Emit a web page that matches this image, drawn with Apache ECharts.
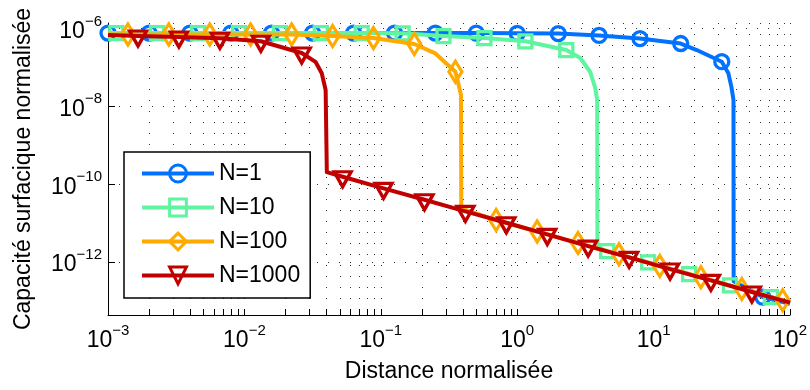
<!DOCTYPE html>
<html><head><meta charset="utf-8">
<script src="https://cdn.jsdelivr.net/npm/echarts@6/dist/echarts.min.js"></script>
<style>html,body{margin:0;padding:0;background:#fff}#c{width:810px;height:390px}</style>
</head><body><div id="c"></div>
<script>
// ---- data ----
const seriesNames = ['N=1', 'N=10', 'N=100', 'N=1000'];

// N=1 : marker points and extra line vertices
const n1MarkX = [0.001, 0.002, 0.00398, 0.00794, 0.0158, 0.0316, 0.0631, 0.126, 0.251, 0.501, 1.0, 2.0, 3.98, 7.94, 15.8, 31.6, 63.1];
const n1MarkY = [7.6e-7, 7.6e-7, 7.6e-7, 7.6e-7, 7.6e-7, 7.6e-7, 7.6e-7, 7.6e-7, 7.6e-7, 7.6e-7, 7.5e-7, 7.4e-7, 6.6e-7, 5.5e-7, 4.1e-7, 1.4e-7, 1.26e-13];
const n1LineX = [20.7, 35.3, 37.2, 38.5, 38.6, 100];
const n1LineY = [2.79e-7, 7.1e-8, 3.1e-8, 1.45e-8, 3.2e-13, 8.5e-14];

// N=10
const n2MarkX = [0.00115, 0.00229, 0.00457, 0.00912, 0.0182, 0.0363, 0.0724, 0.1445, 0.288, 0.575, 1.148, 2.29, 4.57, 9.12, 18.2, 36.3, 72.4];
const n2MarkY = [7.6e-7, 7.6e-7, 7.6e-7, 7.6e-7, 7.6e-7, 7.6e-7, 7.6e-7, 7.48e-7, 6.38e-7, 5.66e-7, 4.68e-7, 2.79e-7, 1.91e-12, 9.77e-13, 4.90e-13, 2.51e-13, 1.26e-13];
const n2LineX = [0.001, 2.90, 3.43, 3.72, 3.855, 3.873, 100];
const n2LineY = [7.6e-7, 1.74e-7, 7.6e-8, 3.09e-8, 1.45e-8, 2.40e-12, 9.1e-14];

// N=100
const n3MarkX = [0.0014, 0.00279, 0.00557, 0.0111, 0.0222, 0.0443, 0.0883, 0.176, 0.352, 0.70, 1.40, 2.79, 5.57, 11.1, 22.2, 44.3, 88.3];
const n3MarkY = [6.97e-7, 6.97e-7, 6.97e-7, 6.97e-7, 6.97e-7, 6.38e-7, 5.66e-7, 3.98e-7, 7.76e-8, 1.20e-11, 6.10e-12, 3.09e-12, 1.58e-12, 7.94e-13, 4.07e-13, 2.04e-13, 1.05e-13];
const n3LineX = [0.001, 0.249, 0.368, 0.387, 0.389, 100];
const n3LineY = [7.1e-7, 2.33e-7, 4.17e-8, 1.95e-8, 2.40e-11, 9.1e-14];

// N=1000
const n4MarkX = [0.00166, 0.00331, 0.00661, 0.0132, 0.0263, 0.0525, 0.1047, 0.209, 0.417, 0.832, 1.66, 3.31, 6.61, 13.2, 26.3, 52.5];
const n4MarkY = [6.38e-7, 6.03e-7, 5.62e-7, 4.68e-7, 2.34e-7, 1.55e-10, 7.82e-11, 3.98e-11, 2.00e-11, 1.02e-11, 5.13e-12, 2.57e-12, 1.32e-12, 6.61e-13, 3.39e-13, 1.70e-13];
const n4LineX = [0.001, 0.0332, 0.0369, 0.0394, 0.0402, 100];
const n4LineY = [6.76e-7, 1.39e-7, 7.08e-8, 2.63e-8, 2.04e-10, 9.1e-14];

// axes
const xMin = 1e-3, xMax = 1e2;
const yMin = 4.37e-14, yMax = 1.38e-6;
const xLabelTicks = [1e-3, 1e-2, 1e-1, 1e0, 1e1, 1e2];
const xMinorFactors = [1, 2, 3, 4, 5, 6, 7, 8, 9];
const yLabelTicks = [1e-12, 1e-10, 1e-8, 1e-6];

// ---- chart ----
const FONT = 'Liberation Sans, Arial, sans-serif';
const colors = ['#0072ff', '#5ff5a0', '#ffaa00', '#c00000'];
const symbolStyles = [
  {symbol: 'circle', symbolSize: 14},
  {symbol: 'rect', symbolSize: 13},
  {symbol: 'diamond', symbolSize: [13, 21]},
  {symbol: 'triangle', symbolSize: [17, 15], symbolRotate: 180, symbolOffset: [0, 2.5]}
];

const xGridTicks = [];
xLabelTicks.forEach(function (d) {
  xMinorFactors.forEach(function (f) {
    const v = d * f;
    if (v <= xMax * 1.0000001) xGridTicks.push(v);
  });
});

function buildData(mx, my, lx, ly) {
  const pts = [];
  mx.forEach(function (x, i) { pts.push({value: [x, my[i]]}); });
  lx.forEach(function (x, i) { pts.push({value: [x, ly[i]], symbol: 'none'}); });
  pts.sort(function (a, b) { return a.value[0] - b.value[0]; });
  return pts;
}
const allData = [
  buildData(n1MarkX, n1MarkY, n1LineX, n1LineY),
  buildData(n2MarkX, n2MarkY, n2LineX, n2LineY),
  buildData(n3MarkX, n3MarkY, n3LineX, n3LineY),
  buildData(n4MarkX, n4MarkY, n4LineX, n4LineY)
];

function powLabel(v) {
  const e = Math.round(Math.log10(v));
  return '{b|10}{s|' + (e < 0 ? '\u2212' + (-e) : String(e)) + '}';
}
const labelRich = {
  b: {fontSize: 23, lineHeight: 26, verticalAlign: 'bottom', fontFamily: FONT, color: '#000'},
  s: {fontSize: 15, padding: [0, 0, 14, 0], verticalAlign: 'top', fontFamily: FONT, color: '#000'}
};

const series = seriesNames.map(function (name, i) {
  return Object.assign({
    name: name,
    type: 'line',
    data: allData[i],
    showSymbol: true,
    showAllSymbol: true,
    z: 2 + i,
    lineStyle: {color: colors[i], width: 4, join: 'round'},
    itemStyle: {color: 'rgba(255,255,255,0)', borderColor: colors[i], borderWidth: 3.3},
    emphasis: {disabled: true},
    animation: false,
    clip: true
  }, symbolStyles[i]);
});

const chart = echarts.init(document.getElementById('c'), null, {renderer: 'canvas'});
chart.setOption({
  animation: false,
  backgroundColor: '#fff',
  textStyle: {fontFamily: FONT},
  grid: {left: 108, right: 17, top: 23, bottom: 75, containLabel: false},
  legend: {
    orient: 'vertical', left: 124, top: 152,
    padding: [10, 10, 11, 16], itemGap: 11, itemWidth: 72, itemHeight: 21,
    backgroundColor: '#fff', borderColor: '#000', borderWidth: 1.5, borderRadius: 0,
    textStyle: {fontFamily: FONT, fontSize: 23, color: '#000', lineHeight: 22},
    lineStyle: {width: 4},
    itemStyle: {borderWidth: 3},
    selectedMode: false,
    data: seriesNames
  },
  xAxis: {
    type: 'log', logBase: 10, min: xMin, max: xMax,
    name: 'Distance normalisée', nameLocation: 'middle', nameGap: 45,
    nameTextStyle: {fontFamily: FONT, fontSize: 23, color: '#000'},
    axisLine: {show: true, onZero: false, lineStyle: {color: '#000', width: 1}},
    axisTick: {show: true, inside: true, length: 6, customValues: xGridTicks, lineStyle: {color: '#000', width: 1}},
    minorTick: {show: false},
    axisLabel: {customValues: xLabelTicks, formatter: powLabel, rich: labelRich, margin: 8.5, color: '#000'},
    splitLine: {show: true, lineStyle: {type: [1, 10], color: '#333', width: 1}},
    minorSplitLine: {show: false}
  },
  yAxis: {
    type: 'log', logBase: 10, min: yMin, max: yMax,
    name: 'Capacité surfacique normalisée', nameLocation: 'middle', nameGap: 73,
    nameTextStyle: {fontFamily: FONT, fontSize: 23, color: '#000'},
    axisLine: {show: true, onZero: false, lineStyle: {color: '#000', width: 1}},
    axisTick: {show: true, inside: true, length: 7, customValues: yLabelTicks, lineStyle: {color: '#000', width: 1}},
    minorTick: {show: false},
    axisLabel: {customValues: yLabelTicks, formatter: powLabel, rich: labelRich, margin: 6, color: '#000'},
    splitLine: {show: true, lineStyle: {type: [1, 10], color: '#333', width: 1}},
    minorSplitLine: {show: false}
  },
  series: series
});
</script>
</body></html>
